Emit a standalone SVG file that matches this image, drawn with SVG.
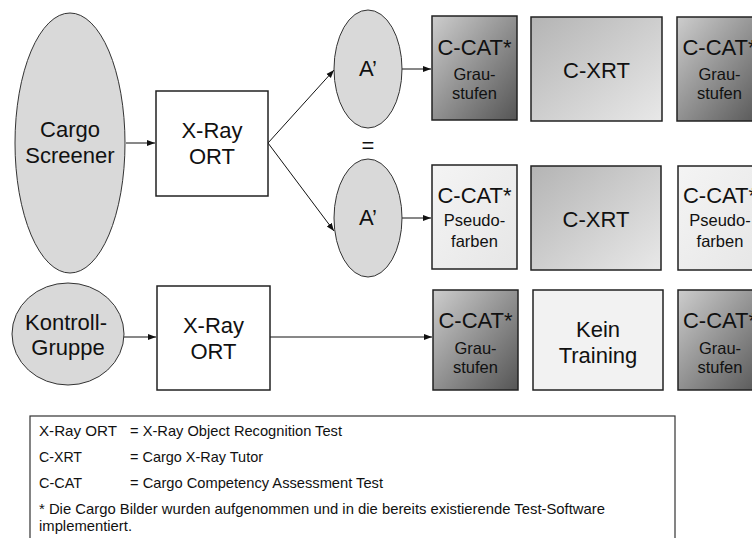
<svg xmlns="http://www.w3.org/2000/svg" width="752" height="538" viewBox="0 0 752 538">
<style>
text{font-family:"Liberation Sans",Arial,sans-serif;fill:#111;text-anchor:middle}
.big{font-size:22px}
.sub{font-size:16.5px}
.leg{font-size:14.5px;text-anchor:start}
.ell{fill:#d9d9d9;stroke:#333;stroke-width:1}
.box{stroke:#222;stroke-width:1.5}
.white{fill:#fff}
.gray{fill:url(#gGray)}
.xrt{fill:url(#gXrt)}
.light{fill:url(#gLight)}
.flat{fill:#f2f2f2}
.con{stroke:#111;stroke-width:1;fill:none;marker-end:url(#arr)}
</style>
<defs>
<linearGradient id="gGray" x1="0" y1="0" x2="1" y2="1">
<stop offset="0" stop-color="#cdcdcd"/>
<stop offset="1" stop-color="#555555"/>
</linearGradient>
<linearGradient id="gXrt" x1="0" y1="0" x2="1" y2="1">
<stop offset="0" stop-color="#b4b4b4"/>
<stop offset="1" stop-color="#e8e8e8"/>
</linearGradient>
<linearGradient id="gLight" x1="0" y1="0" x2="1" y2="1">
<stop offset="0" stop-color="#f4f4f4"/>
<stop offset="1" stop-color="#e6e6e6"/>
</linearGradient>
<marker id="arr" markerUnits="userSpaceOnUse" markerWidth="8" markerHeight="8" viewBox="0 0 8 8" refX="8" refY="4" orient="auto">
<path d="M0,1 L8,4 L0,7 Z" fill="#111"/>
</marker>
</defs>

<g id="connectors">
<line class="con" x1="126" y1="143" x2="155" y2="143"/>
<line class="con" x1="268" y1="143" x2="334" y2="70"/>
<line class="con" x1="268" y1="143" x2="334" y2="231"/>
<line class="con" x1="402" y1="69" x2="431" y2="69"/>
<line class="con" x1="402" y1="218" x2="431" y2="218"/>
<line class="con" x1="124" y1="337" x2="156" y2="337"/>
<line class="con" x1="270" y1="337" x2="432" y2="337"/>
</g>

<g id="cargo-screener">
<ellipse class="ell" cx="70" cy="143" rx="55" ry="130"/>
<text class="big" x="70" y="137">Cargo</text>
<text class="big" x="70" y="163">Screener</text>
</g>
<g id="xray-ort-1">
<rect class="box white" x="156" y="91" width="112" height="105"/>
<text class="big" x="212" y="138">X-Ray</text>
<text class="big" x="212" y="164">ORT</text>
</g>
<g id="a-top">
<ellipse class="ell" cx="368" cy="69" rx="34" ry="59"/>
<text class="big" x="368" y="76">A’</text>
</g>
<text id="equals" class="big" x="368" y="153">=</text>
<g id="a-bottom">
<ellipse class="ell" cx="368" cy="218" rx="34" ry="59"/>
<text class="big" x="368" y="225">A’</text>
</g>

<g id="ccat-gray-1">
<rect class="box gray" x="432" y="16" width="85" height="104"/>
<text class="big" x="474.5" y="55">C-CAT*</text>
<text class="sub" x="474.5" y="80">Grau-</text>
<text class="sub" x="474.5" y="99">stufen</text>
</g>
<g id="cxrt-1">
<rect class="box xrt" x="531" y="17" width="131" height="104"/>
<text class="big" x="596.5" y="78">C-XRT</text>
</g>
<g id="ccat-gray-2">
<rect class="box gray" x="677" y="17" width="86" height="104"/>
<text class="big" x="719.5" y="55">C-CAT*</text>
<text class="sub" x="719.5" y="80">Grau-</text>
<text class="sub" x="719.5" y="99">stufen</text>
</g>

<g id="ccat-pseudo-1">
<rect class="box light" x="432" y="165" width="85" height="104"/>
<text class="big" x="474.5" y="203">C-CAT*</text>
<text class="sub" x="474.5" y="226">Pseudo-</text>
<text class="sub" x="474.5" y="247">farben</text>
</g>
<g id="cxrt-2">
<rect class="box xrt" x="531" y="166" width="130" height="104"/>
<text class="big" x="596" y="227">C-XRT</text>
</g>
<g id="ccat-pseudo-2">
<rect class="box light" x="678" y="166" width="86" height="104"/>
<text class="big" x="720" y="203">C-CAT*</text>
<text class="sub" x="720" y="226">Pseudo-</text>
<text class="sub" x="720" y="247">farben</text>
</g>

<g id="kontroll-gruppe">
<ellipse class="ell" cx="68" cy="334" rx="56" ry="51"/>
<text class="big" x="66" y="330">Kontroll-</text>
<text class="big" x="68" y="355">Gruppe</text>
</g>
<g id="xray-ort-2">
<rect class="box white" x="157" y="286" width="113" height="104"/>
<text class="big" x="213.5" y="333">X-Ray</text>
<text class="big" x="213.5" y="359">ORT</text>
</g>
<g id="ccat-gray-3">
<rect class="box gray" x="433" y="290" width="85" height="100"/>
<text class="big" x="475.5" y="328">C-CAT*</text>
<text class="sub" x="475.5" y="354">Grau-</text>
<text class="sub" x="475.5" y="373">stufen</text>
</g>
<g id="kein-training">
<rect class="box flat" x="533" y="290" width="130" height="100"/>
<text class="big" x="598" y="337">Kein</text>
<text class="big" x="598" y="363">Training</text>
</g>
<g id="ccat-gray-4">
<rect class="box gray" x="678" y="290" width="86" height="100"/>
<text class="big" x="720" y="328">C-CAT*</text>
<text class="sub" x="720" y="354">Grau-</text>
<text class="sub" x="720" y="373">stufen</text>
</g>

<g id="legend">
<rect x="30" y="416" width="645" height="140" fill="#fff" stroke="#333" stroke-width="1.2"/>
<text class="leg" x="39" y="436" textLength="78" lengthAdjust="spacingAndGlyphs">X-Ray ORT</text>
<text class="leg" x="130" y="436" textLength="212" lengthAdjust="spacingAndGlyphs">= X-Ray Object Recognition Test</text>
<text class="leg" x="39" y="462" textLength="43" lengthAdjust="spacingAndGlyphs">C-XRT</text>
<text class="leg" x="130" y="462" textLength="133" lengthAdjust="spacingAndGlyphs">= Cargo X-Ray Tutor</text>
<text class="leg" x="39" y="488" textLength="43" lengthAdjust="spacingAndGlyphs">C-CAT</text>
<text class="leg" x="130" y="488" textLength="253" lengthAdjust="spacingAndGlyphs">= Cargo Competency Assessment Test</text>
<text class="leg" x="39" y="514" textLength="566" lengthAdjust="spacingAndGlyphs">* Die Cargo Bilder wurden aufgenommen und in die bereits existierende Test-Software</text>
<text class="leg" x="39" y="531" textLength="93" lengthAdjust="spacingAndGlyphs">implementiert.</text>
</g>
</svg>
